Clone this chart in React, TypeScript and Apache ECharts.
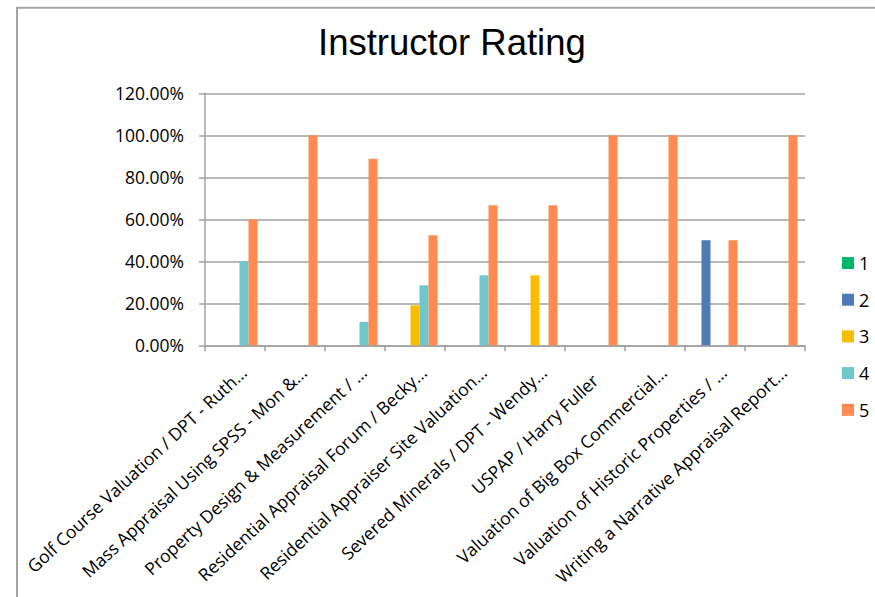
import React, { useEffect, useRef } from "react";
import * as echarts from "echarts";

const categories = [
  "Golf Course Valuation / DPT - Ruth…",
  "Mass Appraisal Using SPSS - Mon &…",
  "Property Design & Measurement / …",
  "Residential Appraisal Forum / Becky…",
  "Residential Appraiser Site Valuation…",
  "Severed Minerals / DPT - Wendy…",
  "USPAP / Harry Fuller",
  "Valuation of Big Box Commercial…",
  "Valuation of Historic Properties / …",
  "Writing a Narrative Appraisal Report…",
];
// labels that were not shortened sit slightly lower in the original
const untruncated = ["USPAP / Harry Fuller"];

const seriesNames = ["1", "2", "3", "4", "5"];
const rating1 = [0, 0, 0, 0, 0, 0, 0, 0, 0, 0];
const rating2 = [0, 0, 0, 0, 0, 0, 0, 0, 0.5, 0];
const rating3 = [0, 0, 0, 0.1905, 0, 0.3333, 0, 0, 0, 0];
const rating4 = [0.4, 0, 0.1111, 0.2857, 0.3333, 0, 0, 0, 0, 0];
const rating5 = [0.6, 1, 0.8889, 0.5238, 0.6667, 0.6667, 1, 1, 0.5, 1];
const colors = ["#00B86B", "#4E7AB5", "#F9BE00", "#6CC8CB", "#FF8B50"];
const yTicks = [0, 0.2, 0.4, 0.6, 0.8, 1.0, 1.2];

export default function App() {
  const ref = useRef<HTMLDivElement>(null);
  useEffect(() => {
    if (!ref.current) return;
    const chart = echarts.init(ref.current, undefined, { renderer: "svg" });
    const data = [rating1, rating2, rating3, rating4, rating5];
    const labelFont = "'Open Sans', 'Noto Sans', sans-serif";
    const gray = "#a0a0a0";
    const baseLabel = {
      interval: 0,
      rotate: 43,
      margin: 32,
      fontFamily: labelFont,
      fontSize: 17.5,
      color: "#000000",
    };
    chart.setOption({
      animation: false,
      backgroundColor: "#ffffff",
      title: {
        text: "Instructor Rating",
        left: 313,
        top: 19,
        textStyle: {
          fontFamily: "'Liberation Sans', Arial, sans-serif",
          fontSize: 36.5,
          fontWeight: "normal",
          color: "#000000",
        },
      },
      graphic: [
        {
          type: "rect",
          shape: { x: 17, y: 7.7, width: 1000, height: 1000 },
          style: { fill: "none", stroke: "#a3a3a3", lineWidth: 2 },
          silent: true,
        },
      ],
      legend: {
        orient: "vertical",
        left: 837,
        top: 248,
        itemWidth: 12,
        itemHeight: 12,
        itemGap: 16.7,
        icon: "rect",
        data: seriesNames,
        textStyle: {
          fontFamily: labelFont,
          fontSize: 18,
          color: "#000000",
          lineHeight: 20,
        },
      },
      grid: { left: 205, top: 93.3, width: 600, height: 252, containLabel: false },
      xAxis: [
        {
          type: "category",
          data: categories,
          position: "bottom",
          axisLine: { lineStyle: { color: gray, width: 1.5 } },
          axisTick: { show: true, length: 6, lineStyle: { color: gray, width: 1.5 } },
          axisLabel: {
            ...baseLabel,
            padding: [0, -11.5, 0, 0],
            formatter: (v: string) => (untruncated.includes(v) ? "" : v),
          },
        },
        {
          type: "category",
          data: categories,
          position: "bottom",
          offset: 0,
          axisLine: { show: false },
          axisTick: { show: false },
          splitLine: { show: false },
          axisLabel: {
            ...baseLabel,
            padding: [10, 0, 0, 0],
            formatter: (v: string) => (untruncated.includes(v) ? v : ""),
          },
        },
      ],
      yAxis: {
        type: "value",
        min: yTicks[0],
        max: yTicks[yTicks.length - 1],
        interval: 0.2,
        axisLine: { show: true, lineStyle: { color: gray, width: 1.5 } },
        axisTick: { show: true, length: 6, lineStyle: { color: gray, width: 1.5 } },
        splitLine: { show: true, lineStyle: { color: gray, width: 1.5 } },
        axisLabel: {
          margin: 21,
          fontFamily: labelFont,
          fontSize: 17.5,
          color: "#000000",
          formatter: (v: number) => (v * 100).toFixed(2) + "%",
        },
      },
      series: seriesNames.map((name, i) => ({
        name,
        type: "bar",
        data: data[i],
        xAxisIndex: 0,
        barWidth: 9,
        barGap: "0%",
        itemStyle: { color: colors[i] },
      })),
    });
    return () => chart.dispose();
  }, []);
  return (
    <div
      ref={ref}
      style={{ position: "fixed", left: 0, top: 0, width: 875, height: 597 }}
    />
  );
}
